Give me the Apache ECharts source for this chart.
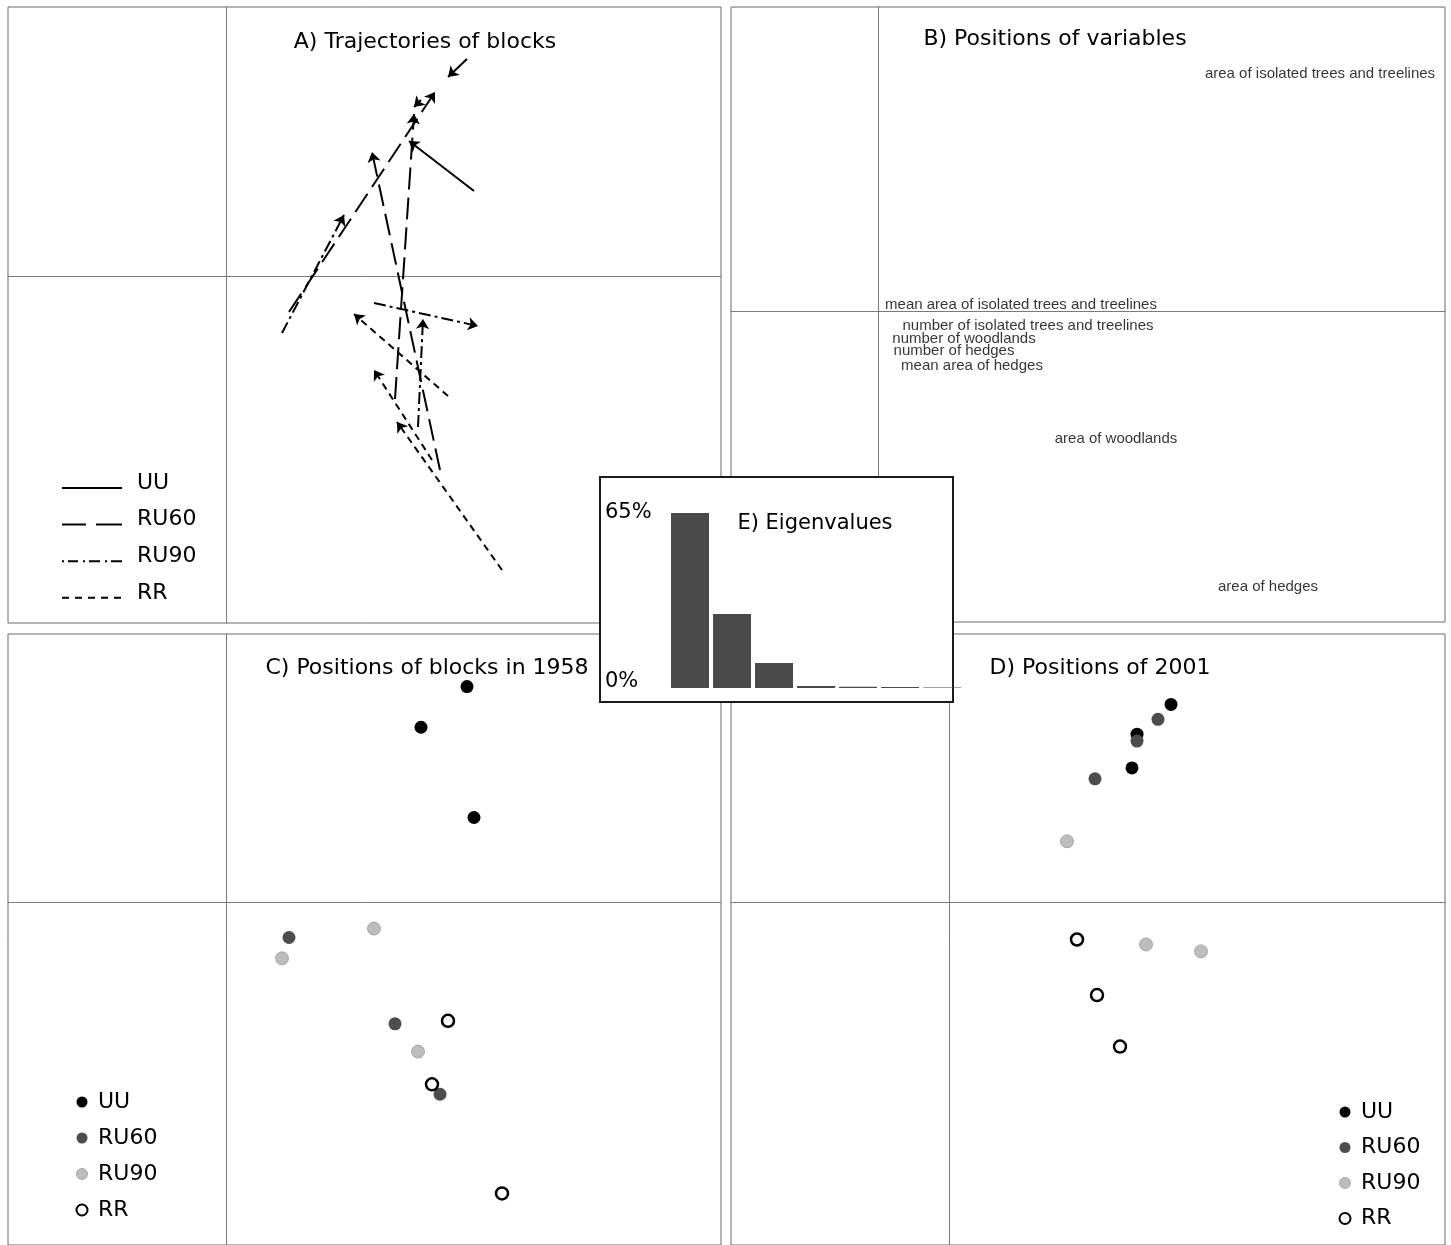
<!DOCTYPE html>
<html>
<head>
<meta charset="utf-8">
<script src="https://cdn.jsdelivr.net/npm/echarts@6/dist/echarts.min.js"></script>
<style>
html,body{margin:0;padding:0;background:#fff;}
#c{width:1451px;height:1245px;}
</style>
</head>
<body>
<div id="c"></div>
<script>
// ---------- DATA ----------
const groups = ['UU', 'RU60', 'RU90', 'RR'];

// Block scores on PCA axes 1 and 2, 1958
const uu1958   = [[2.41, 2.17], [1.95, 1.76], [2.48, 0.85]];
const ru60_1958 = [[0.63, -0.36], [1.69, -1.23], [2.14, -1.94]];
const ru90_1958 = [[1.48, -0.27], [0.56, -0.57], [1.92, -1.51]];
const rr1958   = [[2.22, -1.20], [2.06, -1.84], [2.76, -2.94]];

// Block scores on PCA axes 1 and 2, 2001 (same block order)
const uu2001   = [[2.22, 1.99], [1.88, 1.69], [1.83, 1.35]];
const ru60_2001 = [[2.09, 1.84], [1.88, 1.62], [1.46, 1.24]];
const ru90_2001 = [[2.52, -0.50], [1.18, 0.61], [1.97, -0.43]];
const rr2001   = [[1.28, -0.38], [1.48, -0.94], [1.71, -1.46]];

// Variable positions
const varNames = [
  'area of isolated trees and treelines',
  'mean area of isolated trees and treelines',
  'number of isolated trees and treelines',
  'number of woodlands',
  'number of hedges',
  'mean area of hedges',
  'area of woodlands',
  'area of hedges'
];
const varX = [4.42, 1.43, 1.50, 0.86, 0.76, 0.94, 2.38, 3.90];
const varY = [2.37, 0.06, -0.145, -0.283, -0.397, -0.545, -1.28, -2.76];

// Eigenvalues (% of inertia)
const eigRank = [1, 2, 3, 4, 5, 6, 7, 8];
const eigPct  = [65, 27.5, 9.3, 0.7, 0.5, 0.35, 0.2, 0.1];
const eigTicks = [0, 65];

// ---------- STYLES ----------
const pos1958 = [uu1958, ru60_1958, ru90_1958, rr1958];
const pos2001 = [uu2001, ru60_2001, ru90_2001, rr2001];
const TITLE_FONT = 'DejaVu Sans';
const dashTypes = ['solid', [22, 8], [12, 4, 3, 4], [7, 5]];
const dotStyles = [
  {color: '#000000'},
  {color: '#4d4d4d'},
  {color: '#bdbdbd', borderColor: '#9a9a9a', borderWidth: 0.8},
  {color: '#ffffff', borderColor: '#000000', borderWidth: 2.5}
];
const legendIcons = [
  'path://M0,0L60,0Z M0,14L60,14Z M0,11H60V13H0Z',
  'path://M0,0L60,0Z M0,14L60,14Z M0,11H24V13H0Z M34,11H60V13H34Z',
  'path://M0,0L60,0Z M0,14L60,14Z M0,11H2V13H0Z M6,11H16V13H6Z M21,11H23V13H21Z M27,11H38V13H27Z M43,11H45V13H43Z M49,11H60V13H49Z',
  'path://M0,0L60,0Z M0,14L60,14Z M0,11H7V13H0Z M13,11H20V13H13Z M26,11H33V13H26Z M39,11H46V13H39Z M52,11H59V13H52Z'
];

const zeroAxis = (gridIndex, min, max) => ({
  type: 'value', gridIndex, min, max,
  axisLabel: {show: false}, axisTick: {show: false}, splitLine: {show: false},
  axisLine: {show: true, onZero: true, lineStyle: {color: '#7a7a7a', width: 1}}
});
const panelGrid = (left, top, width, height) => ({
  left, top, width, height, show: true, borderColor: '#6a6a6a', borderWidth: 1, backgroundColor: 'transparent'
});

const series = [];
// A) trajectories
groups.forEach((g, k) => {
  series.push({
    type: 'lines', name: g, coordinateSystem: 'cartesian2d', xAxisIndex: 0, yAxisIndex: 0,
    data: pos1958[k].map((p, i) => ({coords: [p, pos2001[k][i]]})),
    symbol: ['none', 'arrow'], symbolSize: 10,
    lineStyle: {color: '#000', width: 2, type: dashTypes[k], opacity: 1},
    itemStyle: {color: '#000'},
    silent: true, z: 3
  });
});
// C) 1958 positions and D) 2001 positions
[[pos1958, 2, '1958'], [pos2001, 3, '2001']].forEach(([pos, gi, yr]) => {
  groups.forEach((g, k) => {
    series.push({
      type: 'scatter', name: g + '·' + yr, xAxisIndex: gi, yAxisIndex: gi,
      data: pos[k], symbol: 'circle', symbolSize: k === 3 ? 12 : 13,
      itemStyle: Object.assign({opacity: 1}, dotStyles[k]), silent: true, z: 3
    });
  });
});
// B) variables
series.push({
  type: 'scatter', name: 'variables', xAxisIndex: 1, yAxisIndex: 1,
  data: varNames.map((n, i) => ({name: n, value: [varX[i], varY[i]]})),
  symbolSize: 1, itemStyle: {color: 'rgba(0,0,0,0)'},
  label: {show: true, position: 'inside', formatter: '{b}', fontFamily: 'Liberation Sans', fontSize: 15, color: '#000'},
  silent: true, z: 3
});
// E) eigenvalues
series.push({
  type: 'bar', name: 'eigen', xAxisIndex: 5, yAxisIndex: 5,
  data: eigRank.map((r, i) => [r, eigPct[i]]),
  barWidth: 38, clip: true,
  itemStyle: {color: '#4a4a4a', borderWidth: 0},
  silent: true, z: 12
});

const dotLegend = (yr, left, top, gap) => ({
  orient: 'vertical', left, top, padding: 0, itemGap: gap, itemWidth: 11, itemHeight: 11,
  selectedMode: false,
  formatter: name => name.split('·')[0],
  textStyle: {fontFamily: TITLE_FONT, fontSize: 22, color: '#000', padding: [0, 0, 0, 5.5]},
  data: groups.map((g, k) => ({
    name: g + '·' + yr, icon: 'circle',
    itemStyle: Object.assign({borderWidth: 0}, dotStyles[k], k === 3 ? {borderWidth: 2} : {})
  }))
});

const titleAt = (text, x, y, size) => ({
  text, left: x, top: y, textAlign: 'center', padding: 0, z: 20,
  textStyle: {fontFamily: TITLE_FONT, fontSize: size, fontWeight: 'normal', color: '#000'}
});

const option = {
  animation: false,
  backgroundColor: '#fff',
  title: [
    titleAt('A) Trajectories of blocks', 425, 31, 22),
    titleAt('B) Positions of variables', 1055, 28, 22),
    titleAt('C) Positions of blocks in 1958', 427, 657, 22),
    titleAt('D) Positions of 2001', 1100, 657, 22),
    titleAt('E) Eigenvalues', 815, 513, 21)
  ],
  legend: [
    {
      orient: 'vertical', left: 62, top: 472, padding: 0, itemGap: 14.6, itemWidth: 60, itemHeight: 14,
      selectedMode: false,
      textStyle: {fontFamily: TITLE_FONT, fontSize: 22, color: '#000', padding: [0, 0, 0, 10]},
      itemStyle: {color: '#000', borderWidth: 0},
      data: groups.map((g, k) => ({name: g, icon: legendIcons[k]}))
    },
    dotLegend('1958', 75.5, 1091, 14),
    dotLegend('2001', 1338.5, 1101, 13.5)
  ],
  dataZoom: [
    {type: 'inside', xAxisIndex: 5, startValue: 0.5, endValue: 7.26, filterMode: 'empty', disabled: true}
  ],
  grid: [
    panelGrid(8, 7, 713, 616),
    panelGrid(731, 7, 714, 615),
    panelGrid(8, 634, 713, 616),
    panelGrid(731, 634, 714, 616),
    {left: 600, top: 477, width: 353, height: 225, show: true, borderColor: '#1a1a1a', borderWidth: 2, backgroundColor: '#fff', z: 10},
    {left: 669, top: 513, width: 284, height: 175, show: false, z: 11}
  ],
  xAxis: [
    zeroAxis(0, -2.18, 4.95),
    zeroAxis(1, -1.47, 5.67),
    zeroAxis(2, -2.18, 4.95),
    zeroAxis(3, -2.18, 4.96),
    {type: 'value', gridIndex: 4, show: false, min: 0, max: 1},
    {type: 'value', gridIndex: 5, show: false, min: 0.5, max: 7.26, z: 12}
  ],
  yAxis: [
    zeroAxis(0, -3.47, 2.69),
    zeroAxis(1, -3.11, 3.04),
    zeroAxis(2, -3.46, 2.70),
    zeroAxis(3, -3.46, 2.70),
    {type: 'value', gridIndex: 4, show: false, min: 0, max: 1},
    {
      type: 'value', gridIndex: 5, min: eigTicks[0], max: eigTicks[1], interval: eigTicks[1] - eigTicks[0], z: 12,
      axisLine: {show: false}, axisTick: {show: false}, splitLine: {show: false},
      axisLabel: {
        align: 'left', margin: 64,
        formatter: v => v === eigTicks[0] ? '{lo|' + v + '%}' : '{hi|' + v + '%}',
        rich: {
          lo: {fontFamily: TITLE_FONT, fontSize: 21, color: '#000', padding: [0, 0, 12, 0]},
          hi: {fontFamily: TITLE_FONT, fontSize: 21, color: '#000'}
        }
      }
    }
  ],
  series
};

const chart = echarts.init(document.getElementById('c'), null, {renderer: 'canvas'});
chart.setOption(option);
</script>
</body>
</html>
